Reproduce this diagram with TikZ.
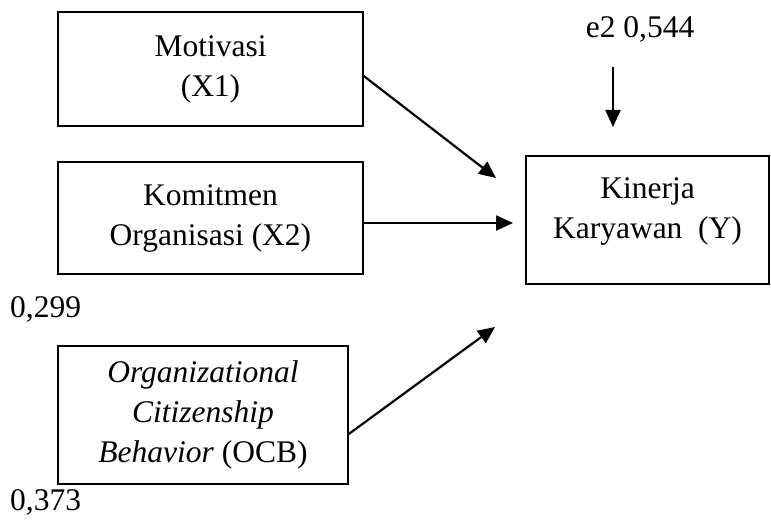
\documentclass[tikz,border=0pt]{standalone}
\usepackage{fontspec}
\setmainfont{Liberation Serif}
\usetikzlibrary{arrows.meta}
\begin{document}
\begin{tikzpicture}[x=1pt,y=-1pt,
  box/.style={draw, line width=1.5pt, inner sep=0pt, align=center, font=\fontsize{31.5}{40}\selectfont},
  lbl/.style={inner sep=0pt, font=\fontsize{31.5}{40}\selectfont},
  arr/.style={line width=2.2pt, -{Triangle[length=17pt,width=15pt]}}]
\useasboundingbox (0,0) rectangle (771,521);
\node[box, minimum width=305pt, minimum height=114pt] (mot) at (210.5,69) {Motivasi\\(X1)};
\node[box, minimum width=305pt, minimum height=112pt] (kom) at (210.5,218) {Komitmen\\Organisasi (X2)};
\node[box, minimum width=290pt, minimum height=138pt] (ocb) at (203,415) {\textit{Organizational}\\\textit{Citizenship}\\\textit{Behavior} (OCB)};
\node[box, minimum width=243pt, minimum height=128pt, text depth=24pt] (kin) at (647.5,220) {Kinerja\\Karyawan~~(Y)};
\node[lbl, anchor=base] (e2) at (640,38) {e2 0,544};
\node[lbl, anchor=base west] (r1) at (10,317) {0,299};
\node[lbl, anchor=base west] (r2) at (10,510) {0,373};
\coordinate (e2s) at (613,67);
\coordinate (e2t) at (613,127);
\coordinate (t1) at (496,178);
\coordinate (t2) at (513,223);
\coordinate (t3) at (495,327);
\draw[arr] (e2s) -- (e2t);
\draw[arr] ([yshift=-7pt]mot.east) -- (t1);
\draw[arr] ([yshift=-5pt]kom.east) -- (t2);
\draw[arr] ([yshift=-19pt]ocb.east) -- (t3);
\end{tikzpicture}
\end{document}
